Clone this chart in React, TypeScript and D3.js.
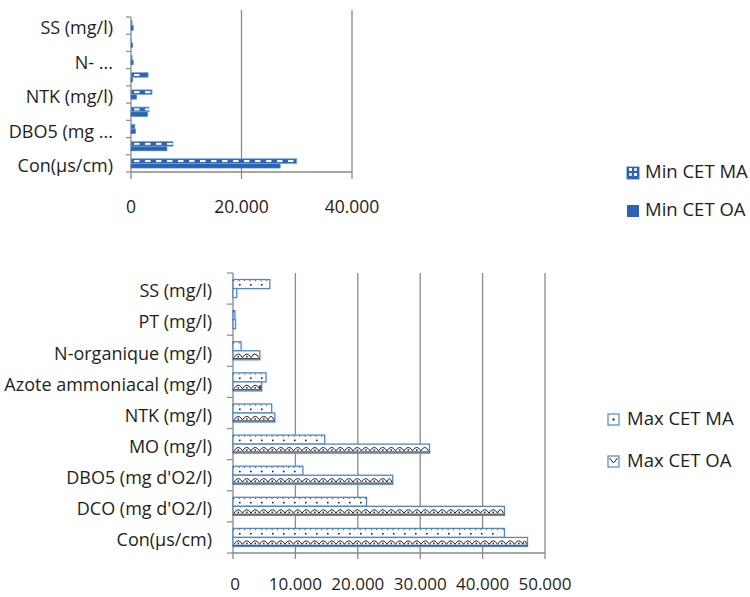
import React from "react";
import * as d3 from "d3";

const categories = [
  "SS (mg/l)",
  "PT (mg/l)",
  "N-organique (mg/l)",
  "Azote ammoniacal  (mg/l)",
  "NTK (mg/l)",
  "MO (mg/l)",
  "DBO5 (mg d'O2/l)",
  "DCO (mg  d'O2/l)",
  "Con(µs/cm)",
];
const topLabels = ["SS (mg/l)", "", "N- ...", "", "NTK (mg/l)", "", "DBO5 (mg ...", "", "Con(µs/cm)"];

const minMA = [200, 100, 200, 3100, 3800, 3300, 700, 7600, 30000];
const minOA = [400, 300, 400, 300, 1000, 3000, 800, 6500, 27000];
const maxMA = [5900, 300, 1300, 5300, 6200, 14700, 11200, 21400, 43500];
const maxOA = [600, 400, 4300, 4600, 6700, 31500, 25600, 43500, 47200];

const topTicks = [0, 20000, 40000];
const botTicks = [0, 10000, 20000, 30000, 40000, 50000];
const seriesTop = ["Min CET MA", "Min CET OA"];
const seriesBot = ["Max CET MA", "Max CET OA"];

const FONT = "'Open Sans', 'DejaVu Sans', sans-serif";
const BLUE = "#2d63b3";
const EDGE = "#4f86cf";
const AXIS = "#8a8a8a";
const TXT = "#1e1e1e";

const fmt = (v: number) => (v === 0 ? "0" : d3.format(",")(v).replace(/,/g, "."));

export default function App() {
  // top chart
  const xT = d3.scaleLinear().domain([0, 40000]).range([131, 352]);
  const yT = d3.scaleBand<string>().domain(categories).range([17, 172]).paddingInner(0.46).paddingOuter(0.23);
  const sT = d3.scaleBand<string>().domain(seriesTop).range([0, yT.bandwidth()]);
  // bottom chart
  const xB = d3.scaleLinear().domain([0, 50000]).range([233, 545]);
  const yB = d3.scaleBand<string>().domain(categories).range([273, 553]).paddingInner(0.42).paddingOuter(0.21);
  const sB = d3.scaleBand<string>().domain(seriesBot).range([0, yB.bandwidth()]);

  const stepT = (172 - 17) / categories.length;
  const stepB = (553 - 273) / categories.length;

  return (
    <svg
      width={750}
      height={597}
      style={{ position: "absolute", left: 0, top: 0, background: "#fff" }}
      fontFamily={FONT}
    >
      <defs>
        <pattern id="legMA" x={627} y={166} width={12} height={12} patternUnits="userSpaceOnUse">
          <rect width={12} height={12} fill={BLUE} />
          <rect x={2} y={2} width={3} height={3} fill="#fff" />
          <rect x={7} y={7} width={3} height={3} fill="#fff" />
          <rect x={7} y={2} width={3} height={3} fill="#cfe0f5" />
          <rect x={2} y={7} width={3} height={3} fill="#cfe0f5" />
        </pattern>
      </defs>

      {/* ================= TOP CHART ================= */}
      {topTicks.slice(1).map((t) => (
        <line key={"tg" + t} x1={xT(t)} x2={xT(t)} y1={10} y2={179} stroke={AXIS} strokeWidth={1.3} />
      ))}
      <line x1={xT(0)} x2={xT(0)} y1={17} y2={179} stroke={AXIS} strokeWidth={1.3} />
      <line x1={xT(0)} x2={xT(40000)} y1={172} y2={172} stroke={AXIS} strokeWidth={1.3} />
      {d3.range(categories.length + 1).map((i) => (
        <line key={"tyt" + i} x1={xT(0) - 5} x2={xT(0)} y1={17 + i * stepT} y2={17 + i * stepT} stroke={AXIS} strokeWidth={1.2} />
      ))}
      {categories.map((c, i) => {
        const y0 = yT(c)!;
        const hMA = sT.bandwidth();
        const yMA = y0 + sT(seriesTop[0])!;
        const yOA = y0 + sT(seriesTop[1])!;
        const wMA = xT(minMA[i]) - xT(0);
        const wOA = xT(minOA[i]) - xT(0);
        const dashes = d3.range(xT(0) + 3, xT(0) + wMA - 4, 11);
        return (
          <g key={"tb" + i}>
            <rect x={xT(0)} y={yOA} width={wOA} height={hMA} fill={BLUE} stroke="#3f78c8" strokeWidth={0.6} />
            <rect x={xT(0)} y={yMA} width={wMA} height={hMA} fill={BLUE} stroke="#7aa6dd" strokeWidth={0.8} />
            {dashes.map((dx, k) => (
              <rect key={k} x={dx} y={yMA + hMA / 2 - 1} width={5.5} height={2} fill="#fff" />
            ))}
          </g>
        );
      })}
      {categories.map((c, i) =>
        topLabels[i] ? (
          <text key={"tl" + i} x={113} y={yT(c)! + yT.bandwidth() / 2 + 4} textAnchor="end" dominantBaseline="middle" fontSize={18} fill={TXT}>
            {topLabels[i]}
          </text>
        ) : null
      )}
      {topTicks.map((t) => (
        <text key={"tt" + t} x={xT(t)} y={208} textAnchor="middle" dominantBaseline="middle" fontSize={17.5} fill={TXT}>
          {fmt(t)}
        </text>
      ))}
      {/* top legend */}
      <rect x={627} y={167} width={12} height={12} fill="url(#legMA)" stroke={BLUE} strokeWidth={0.8} />
      <text x={645} y={173} dominantBaseline="middle" fontSize={18.5} fill={TXT}>{seriesTop[0]}</text>
      <rect x={627} y={205} width={12} height={12} fill={BLUE} />
      <text x={645} y={211} dominantBaseline="middle" fontSize={18.5} fill={TXT}>{seriesTop[1]}</text>

      {/* ================= BOTTOM CHART ================= */}
      {botTicks.slice(1).map((t) => (
        <line key={"bg" + t} x1={xB(t)} x2={xB(t)} y1={273} y2={553} stroke={AXIS} strokeWidth={1.3} />
      ))}
      <line x1={xB(0)} x2={xB(0)} y1={273} y2={553} stroke={AXIS} strokeWidth={1.3} />
      <line x1={xB(0)} x2={xB(50000)} y1={553} y2={553} stroke={AXIS} strokeWidth={1.3} />
      {botTicks.map((t) => (
        <line key={"bxt" + t} x1={xB(t)} x2={xB(t)} y1={553} y2={559} stroke={AXIS} strokeWidth={1.3} />
      ))}
      {d3.range(categories.length + 1).map((i) => (
        <line key={"byt" + i} x1={xB(0) - 6} x2={xB(0)} y1={273 + i * stepB} y2={273 + i * stepB} stroke={AXIS} strokeWidth={1.2} />
      ))}
      {categories.map((c, i) => {
        const y0 = yB(c)!;
        const h = sB.bandwidth();
        const yMA = y0 + sB(seriesBot[0])!;
        const yOA = y0 + sB(seriesBot[1])!;
        const x0 = xB(0);
        const wMA = xB(maxMA[i]) - x0;
        const wOA = xB(maxOA[i]) - x0;
        const dots = d3.range(x0 + 6, x0 + wMA - 3, 11);
        const arch = 8.5;
        const starts = d3.range(x0 + 1, x0 + wOA - 2, arch);
        const low = yOA + h - 2.2;
        const high = yOA + 1.8;
        let path = "";
        starts.forEach((wx) => {
          const end = Math.min(wx + arch, x0 + wOA - 1);
          path += `M${wx},${low}Q${(wx + end) / 2},${high - 2} ${end},${low}`;
        });
        return (
          <g key={"bb" + i}>
            <rect x={x0} y={yMA} width={wMA} height={h} fill="#fff" stroke={EDGE} strokeWidth={1.3} />
            <line x1={x0} x2={x0 + wMA} y1={yMA + 1.2} y2={yMA + 1.2} stroke="#1a1a1a" strokeWidth={0.7} strokeDasharray="1.2 4.3" />
            {dots.map((dx, k) => (
              <rect key={k} x={dx} y={yMA + h / 2} width={1.6} height={1.6} fill="#222" />
            ))}
            <rect x={x0} y={yOA} width={wOA} height={h} fill="#fff" stroke={EDGE} strokeWidth={1.3} />
            {wOA > 6 ? <path d={path} fill="none" stroke="#222" strokeWidth={1} /> : null}
            {wOA > 6
              ? starts.slice(0, -1).map((wx, k) => (
                  <rect key={"d" + k} x={wx + arch / 2 - 0.7} y={low - 1.6} width={1.5} height={1.5} fill="#222" />
                ))
              : null}
            {wOA > 6 ? (
              <line x1={x0} x2={x0 + wOA} y1={yOA + h - 1.2} y2={yOA + h - 1.2} stroke="#222" strokeWidth={0.9} />
            ) : null}
          </g>
        );
      })}
      {categories.map((c, i) => (
        <text key={"bl" + i} x={212} y={yB(c)! + yB.bandwidth() / 2 + 4} textAnchor="end" dominantBaseline="middle" fontSize={18} fill={TXT}>
          {c}
        </text>
      ))}
      {botTicks.map((t) => (
        <text key={"bt" + t} x={xB(t) + (t === 0 ? 2 : 0)} y={585} textAnchor="middle" dominantBaseline="middle" fontSize={17} fill={TXT}>
          {fmt(t)}
        </text>
      ))}
      {/* bottom legend */}
      <rect x={608} y={414} width={11} height={11} fill="#fff" stroke={EDGE} strokeWidth={1.2} />
      <rect x={612.5} y={418.5} width={2} height={2} fill="#222" />
      <text x={627} y={420} dominantBaseline="middle" fontSize={18.5} fill={TXT}>{seriesBot[0]}</text>
      <rect x={608} y={456} width={11} height={11} fill="#fff" stroke={EDGE} strokeWidth={1.2} />
      <path d="M609.5,458 L613.5,463 L617.5,458" fill="none" stroke="#222" strokeWidth={1} />
      <text x={627} y={462} dominantBaseline="middle" fontSize={18.5} fill={TXT}>{seriesBot[1]}</text>
    </svg>
  );
}
